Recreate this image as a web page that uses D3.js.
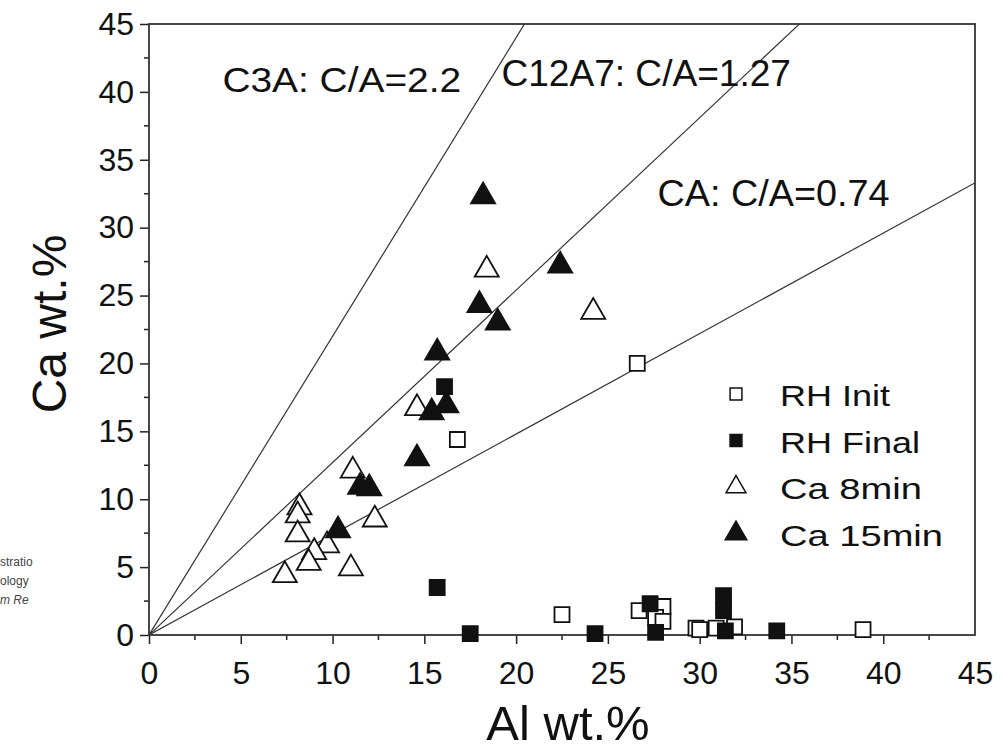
<!DOCTYPE html>
<meta charset="utf-8">
<style>
body { margin: 0; background: #fff; }
text { font-family: "Liberation Sans", Arial, sans-serif; fill: #111; }
</style>
<body>
<script src="https://cdn.jsdelivr.net/npm/d3@7"></script>
<script>

// data: [Al wt.%, Ca wt.%]
var rhInit = [[26.6, 20.0], [16.8, 14.4], [22.5, 1.5], [26.7, 1.8], [28.0, 2.1], [27.6, 1.3],
  [28.0, 1.0], [29.8, 0.5], [30.0, 0.4], [30.9, 0.5], [31.9, 0.6], [38.9, 0.4]];
var rhFinal = [[16.1, 18.3], [15.7, 3.5], [17.5, 0.1], [24.3, 0.1], [27.3, 2.3], [27.6, 0.2],
  [31.3, 2.9], [31.3, 1.8], [31.4, 0.3], [34.2, 0.3]];
var ca8 = [[18.4, 26.9], [24.2, 23.8], [14.6, 16.7], [11.1, 12.1], [8.2, 9.4], [8.1, 8.8],
  [8.1, 7.4], [12.3, 8.5], [9.7, 6.6], [9.0, 6.1], [8.7, 5.3], [11.0, 4.9], [7.4, 4.4]];
var ca15 = [[18.2, 32.3], [22.4, 27.2], [18.0, 24.3], [19.0, 23.0], [15.7, 20.8], [16.2, 16.9],
  [15.4, 16.4], [14.6, 13.0], [11.5, 10.9], [12.0, 10.8], [10.3, 7.7]];

var ratios = [2.2, 1.27, 0.74];
var ratioLabels = ["C3A: C/A=2.2", "C12A7: C/A=1.27", "CA: C/A=0.74"];
var ratioLabelPos = [[4.0, 40.0], [19.2, 40.4], [27.7, 31.6]];
var ratioLabelStretch = [1.08, 1.03, 1.05];

var seriesNames = ["RH Init", "RH Final", "Ca 8min", "Ca 15min"];
var legendStretch = [1.2, 1.2, 1.27, 1.27];
var ticks = [0, 5, 10, 15, 20, 25, 30, 35, 40, 45];
var minorTicks = [2.5, 7.5, 12.5, 17.5, 22.5, 27.5, 32.5, 37.5, 42.5];

var W = 1003, H = 749;
var margin = {top: 24, right: 28, bottom: 114, left: 149};
var width = W - margin.left - margin.right,
    height = H - margin.top - margin.bottom;

var x = d3.scaleLinear().domain([0, 45]).range([0, width]);
var y = d3.scaleLinear().domain([0, 45]).range([height, 0]);

var svg = d3.select("body").append("svg")
    .attr("width", W)
    .attr("height", H);

// leftover text from the neighbouring figure
var side = svg.append("g").style("font-size", "12px");
side.append("text").attr("x", 0).attr("y", 566).style("fill", "#444").text("stratio");
side.append("text").attr("x", 0).attr("y", 585).style("fill", "#444").text("ology");
side.append("text").attr("x", 0).attr("y", 604).style("fill", "#444").style("font-style", "italic").text("m Re");

var g = svg.append("g")
    .attr("transform", "translate(" + margin.left + "," + margin.top + ")");

g.append("clipPath").attr("id", "clip")
  .append("rect").attr("width", width).attr("height", height);

// ratio lines from the origin
g.append("g").attr("clip-path", "url(#clip)")
  .selectAll("line")
    .data(ratios)
  .enter().append("line")
    .attr("x1", x(0)).attr("y1", y(0))
    .attr("x2", function(r) { return x(100); })
    .attr("y2", function(r) { return y(100 * r); })
    .attr("stroke", "#333")
    .attr("stroke-width", 1.2);

g.selectAll(".rlabel")
    .data(ratioLabels)
  .enter().append("text")
    .attr("class", "rlabel")
    .attr("transform", function(d, i) {
      return "translate(" + x(ratioLabelPos[i][0]) + "," + y(ratioLabelPos[i][1]) + ") scale(" + ratioLabelStretch[i] + ",1)";
    })
    .style("font-size", "36px")
    .text(function(d) { return d; });

// axes
var xAxis = g.append("g")
    .attr("transform", "translate(0," + height + ")")
    .call(d3.axisBottom(x).tickValues(ticks).tickSize(9).tickPadding(17));
xAxis.selectAll(".tick").filter(function(d) { return d === 45; }).select("line").remove();
xAxis.call(function(a) { a.append("g").selectAll("line").data(minorTicks).enter().append("line")
    .attr("x1", x).attr("x2", x).attr("y1", 0).attr("y2", 5).attr("stroke", "#222").attr("stroke-width", 1.5); });

var yAxis = g.append("g")
    .call(d3.axisLeft(y).tickValues(ticks).tickSize(9).tickPadding(6));
yAxis.call(function(a) { a.append("g").selectAll("line").data(minorTicks).enter().append("line")
    .attr("y1", y).attr("y2", y).attr("x1", 0).attr("x2", -5).attr("stroke", "#222").attr("stroke-width", 1.5); });

[xAxis, yAxis].forEach(function(a) {
  a.select(".domain").remove();
  a.selectAll(".tick line").attr("stroke", "#222").attr("stroke-width", 1.5);
  a.selectAll(".tick text").style("font-size", "32px").style("font-family", "Liberation Sans, Arial, sans-serif").attr("fill", "#111");
});

g.append("rect")
    .attr("width", width).attr("height", height)
    .attr("fill", "none").attr("stroke", "#333").attr("stroke-width", 1.8);

// axis titles
svg.append("text")
    .attr("x", 568)
    .attr("y", 740)
    .attr("text-anchor", "middle")
    .style("font-size", "49px")
    .text("Al wt.%");

svg.append("text")
    .attr("transform", "translate(66,324) rotate(-90)")
    .attr("text-anchor", "middle")
    .style("font-size", "48px")
    .text("Ca wt.%");

// markers
var square = d3.symbol().type(d3.symbolSquare).size(225);
var tri = d3.symbol().type(d3.symbolTriangle).size(250);

function plot(data, sym, fill) {
  g.append("g").selectAll("path")
      .data(data)
    .enter().append("path")
      .attr("d", sym)
      .attr("transform", function(d) { return "translate(" + x(d[0]) + "," + y(d[1]) + ")"; })
      .attr("fill", fill)
      .attr("stroke", "#111")
      .attr("stroke-width", 1.8);
}

plot(rhInit, square, "#fff");
plot(rhFinal, square, "#111");
plot(ca8, tri, "#fff");
plot(ca15, tri, "#111");

// legend
var legSyms = [d3.symbol().type(d3.symbolSquare).size(140), d3.symbol().type(d3.symbolSquare).size(140),
  d3.symbol().type(d3.symbolTriangle).size(170), d3.symbol().type(d3.symbolTriangle).size(200)];
var legFills = ["#fff", "#111", "#fff", "#111"];
var legend = svg.append("g").attr("transform", "translate(736,394)");
var rows = legend.selectAll("g")
    .data(seriesNames)
  .enter().append("g")
    .attr("transform", function(d, i) { return "translate(0," + (i * 46.5) + ")"; });
rows.append("path")
    .attr("d", function(d, i) { return legSyms[i](); })
    .attr("fill", function(d, i) { return legFills[i]; })
    .attr("stroke", "#111")
    .attr("stroke-width", 1.5);
rows.append("text")
    .attr("transform", function(d, i) { return "translate(44,12) scale(" + legendStretch[i] + ",1)"; })
    .style("font-size", "30px")
    .text(function(d) { return d; });

</script>
